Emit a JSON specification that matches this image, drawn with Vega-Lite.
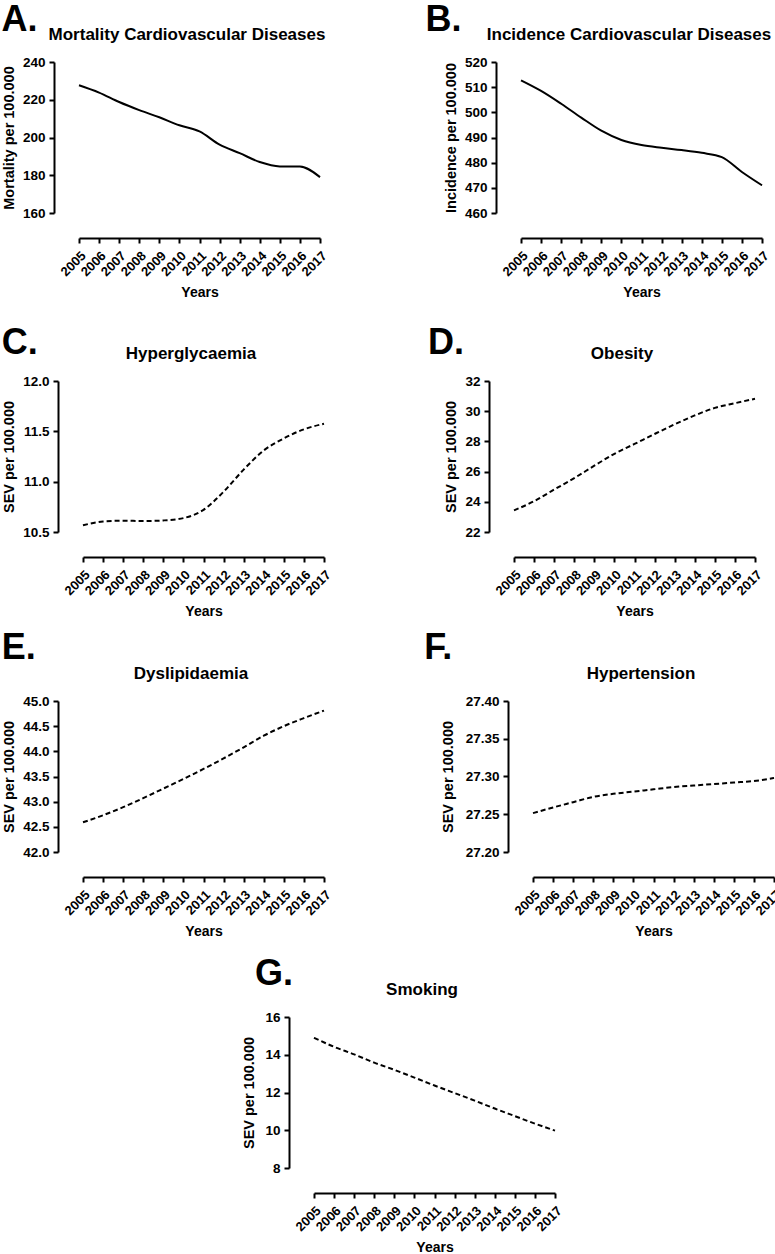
{
  "$schema": "https://vega.github.io/schema/vega-lite/v6.json",
  "background": "white",
  "padding": {"left": 0, "top": 2, "right": 0, "bottom": 0},
  "datasets": {
    "A": [{"year":2005,"value":227.7},{"year":2006,"value":223.8},{"year":2007,"value":218.8},{"year":2008,"value":214.5},{"year":2009,"value":210.7},{"year":2010,"value":206.5},{"year":2011,"value":203.2},{"year":2012,"value":196.2},{"year":2013,"value":191.7},{"year":2014,"value":187.0},{"year":2015,"value":184.7},{"year":2016,"value":184.6},{"year":2017,"value":179.0}],
    "B": [{"year":2005,"value":512.7},{"year":2006,"value":508.5},{"year":2007,"value":503.4},{"year":2008,"value":497.9},{"year":2009,"value":492.7},{"year":2010,"value":489.0},{"year":2011,"value":487.0},{"year":2012,"value":485.9},{"year":2013,"value":485.0},{"year":2014,"value":483.9},{"year":2015,"value":482.2},{"year":2016,"value":476.3},{"year":2017,"value":471.0}],
    "C": [{"year":2005,"value":10.566},{"year":2006,"value":10.605},{"year":2007,"value":10.612},{"year":2008,"value":10.609},{"year":2009,"value":10.615},{"year":2010,"value":10.638},{"year":2011,"value":10.72},{"year":2012,"value":10.9},{"year":2013,"value":11.12},{"year":2014,"value":11.31},{"year":2015,"value":11.43},{"year":2016,"value":11.52},{"year":2017,"value":11.575}],
    "D": [{"year":2005,"value":23.43},{"year":2006,"value":24.04},{"year":2007,"value":24.81},{"year":2008,"value":25.57},{"year":2009,"value":26.39},{"year":2010,"value":27.18},{"year":2011,"value":27.83},{"year":2012,"value":28.49},{"year":2013,"value":29.13},{"year":2014,"value":29.72},{"year":2015,"value":30.22},{"year":2016,"value":30.53},{"year":2017,"value":30.82}],
    "E": [{"year":2005,"value":42.59},{"year":2006,"value":42.73},{"year":2007,"value":42.89},{"year":2008,"value":43.07},{"year":2009,"value":43.26},{"year":2010,"value":43.45},{"year":2011,"value":43.65},{"year":2012,"value":43.86},{"year":2013,"value":44.08},{"year":2014,"value":44.31},{"year":2015,"value":44.5},{"year":2016,"value":44.66},{"year":2017,"value":44.81}],
    "F": [{"year":2005,"value":27.2515},{"year":2006,"value":27.259},{"year":2007,"value":27.266},{"year":2008,"value":27.273},{"year":2009,"value":27.277},{"year":2010,"value":27.28},{"year":2011,"value":27.283},{"year":2012,"value":27.286},{"year":2013,"value":27.288},{"year":2014,"value":27.29},{"year":2015,"value":27.292},{"year":2016,"value":27.294},{"year":2017,"value":27.298}],
    "G": [{"year":2005,"value":14.9},{"year":2006,"value":14.42},{"year":2007,"value":14.02},{"year":2008,"value":13.58},{"year":2009,"value":13.2},{"year":2010,"value":12.79},{"year":2011,"value":12.37},{"year":2012,"value":11.97},{"year":2013,"value":11.57},{"year":2014,"value":11.15},{"year":2015,"value":10.75},{"year":2016,"value":10.35},{"year":2017,"value":9.98}],
    "empty": []
  },
  "spacing": 25,
  "vconcat": [
    {
      "spacing": 0,
      "hconcat": [
        {"width": 1, "height": 10, "data": {"name": "empty"}, "mark": {"type": "point", "opacity": 0}},
        {
          "spacing": 95,
          "hconcat": [
            {
              "title": {"text": "A.", "anchor": "start", "frame": "bounds", "fontSize": 36, "offset": -13, "dx": 0},
              "hconcat": [{
                "title": {"text": "Mortality Cardiovascular Diseases", "fontSize": 17, "anchor": "middle", "frame": "group", "offset": 11},
                "width": 266, "height": 151,
                "data": {"name": "A"},
                "mark": {"type": "line", "color": "black", "strokeWidth": 2, "interpolate": "monotone"},
                "encoding": {
                  "x": {"field": "year", "type": "quantitative", "scale": {"domain": [2005, 2017], "range": [25, 266], "nice": false, "zero": false}, "axis": {"values": [2005,2006,2007,2008,2009,2010,2011,2012,2013,2014,2015,2016,2017], "format": "d", "labelAngle": -45, "offset": 25, "title": "Years", "labelOverlap": false}},
                  "y": {"field": "value", "type": "quantitative", "scale": {"domain": [160, 240], "nice": false, "zero": false}, "axis": {"values": [160,180,200,220,240], "format": "d", "title": "Mortality per 100.000", "labelOverlap": false}}
                }
              }]
            },
            {
              "title": {"text": "B.", "anchor": "start", "frame": "bounds", "fontSize": 36, "offset": -13, "dx": -18},
              "hconcat": [{
                "title": {"text": "Incidence Cardiovascular Diseases", "fontSize": 17, "anchor": "middle", "frame": "group", "offset": 11},
                "width": 266, "height": 151,
                "data": {"name": "B"},
                "mark": {"type": "line", "color": "black", "strokeWidth": 2, "interpolate": "monotone"},
                "encoding": {
                  "x": {"field": "year", "type": "quantitative", "scale": {"domain": [2005, 2017], "range": [25, 266], "nice": false, "zero": false}, "axis": {"values": [2005,2006,2007,2008,2009,2010,2011,2012,2013,2014,2015,2016,2017], "format": "d", "labelAngle": -45, "offset": 25, "title": "Years", "labelOverlap": false}},
                  "y": {"field": "value", "type": "quantitative", "scale": {"domain": [460, 520], "nice": false, "zero": false}, "axis": {"values": [460,470,480,490,500,510,520], "format": "d", "title": "Incidence per 100.000", "labelOverlap": false}}
                }
              }]
            }
          ]
        }
      ]
    },
    {
      "spacing": 11,
      "vconcat": [
        {
          "spacing": 0,
          "hconcat": [
            {"width": 1, "height": 10, "data": {"name": "empty"}, "mark": {"type": "point", "opacity": 0}},
            {
              "spacing": 93,
              "hconcat": [
                {
                  "title": {"text": "C.", "anchor": "start", "frame": "bounds", "fontSize": 36, "offset": -17, "dx": 0},
                  "hconcat": [{
                    "title": {"text": "Hyperglycaemia", "fontSize": 17, "anchor": "middle", "frame": "group", "offset": 11},
                    "width": 266, "height": 151,
                    "data": {"name": "C"},
                    "mark": {"type": "line", "color": "black", "strokeWidth": 2, "strokeDash": [5, 3], "interpolate": "monotone"},
                    "encoding": {
                      "x": {"field": "year", "type": "quantitative", "scale": {"domain": [2005, 2017], "range": [25, 266], "nice": false, "zero": false}, "axis": {"values": [2005,2006,2007,2008,2009,2010,2011,2012,2013,2014,2015,2016,2017], "format": "d", "labelAngle": -45, "offset": 25, "title": "Years", "labelOverlap": false}},
                      "y": {"field": "value", "type": "quantitative", "scale": {"domain": [10.5, 12], "nice": false, "zero": false}, "axis": {"values": [10.5,11,11.5,12], "format": ".1f", "title": "SEV per 100.000", "labelOverlap": false}}
                    }
                  }]
                },
                {
                  "title": {"text": "D.", "anchor": "start", "frame": "bounds", "fontSize": 36, "offset": -17, "dx": -16},
                  "hconcat": [{
                    "title": {"text": "Obesity", "fontSize": 17, "anchor": "middle", "frame": "group", "offset": 11},
                    "width": 266, "height": 151,
                    "data": {"name": "D"},
                    "mark": {"type": "line", "color": "black", "strokeWidth": 2, "strokeDash": [5, 3], "interpolate": "monotone"},
                    "encoding": {
                      "x": {"field": "year", "type": "quantitative", "scale": {"domain": [2005, 2017], "range": [25, 266], "nice": false, "zero": false}, "axis": {"values": [2005,2006,2007,2008,2009,2010,2011,2012,2013,2014,2015,2016,2017], "format": "d", "labelAngle": -45, "offset": 25, "title": "Years", "labelOverlap": false}},
                      "y": {"field": "value", "type": "quantitative", "scale": {"domain": [22, 32], "nice": false, "zero": false}, "axis": {"values": [22,24,26,28,30,32], "format": "d", "title": "SEV per 100.000", "labelOverlap": false}}
                    }
                  }]
                }
              ]
            }
          ]
        },
        {
          "spacing": 17,
          "vconcat": [
            {
              "spacing": 0,
              "hconcat": [
                {"width": 1, "height": 10, "data": {"name": "empty"}, "mark": {"type": "point", "opacity": 0}},
                {
                  "spacing": 90,
                  "hconcat": [
                    {
                      "title": {"text": "E.", "anchor": "start", "frame": "bounds", "fontSize": 36, "offset": -2, "dx": 0},
                      "hconcat": [{
                        "title": {"text": "Dyslipidaemia", "fontSize": 17, "anchor": "middle", "frame": "group", "offset": 11},
                        "width": 266, "height": 151,
                        "data": {"name": "E"},
                        "mark": {"type": "line", "color": "black", "strokeWidth": 2, "strokeDash": [5, 3], "interpolate": "monotone"},
                        "encoding": {
                          "x": {"field": "year", "type": "quantitative", "scale": {"domain": [2005, 2017], "range": [25, 266], "nice": false, "zero": false}, "axis": {"values": [2005,2006,2007,2008,2009,2010,2011,2012,2013,2014,2015,2016,2017], "format": "d", "labelAngle": -45, "offset": 25, "title": "Years", "labelOverlap": false}},
                          "y": {"field": "value", "type": "quantitative", "scale": {"domain": [42, 45], "nice": false, "zero": false}, "axis": {"values": [42,42.5,43,43.5,44,44.5,45], "format": ".1f", "title": "SEV per 100.000", "labelOverlap": false}}
                        }
                      }]
                    },
                    {
                      "title": {"text": "F.", "anchor": "start", "frame": "bounds", "fontSize": 36, "offset": -2, "dx": -16},
                      "hconcat": [{
                        "title": {"text": "Hypertension", "fontSize": 17, "anchor": "middle", "frame": "group", "offset": 11},
                        "width": 266, "height": 151,
                        "data": {"name": "F"},
                        "mark": {"type": "line", "color": "black", "strokeWidth": 2, "strokeDash": [5, 3], "interpolate": "monotone"},
                        "encoding": {
                          "x": {"field": "year", "type": "quantitative", "scale": {"domain": [2005, 2017], "range": [25, 266], "nice": false, "zero": false}, "axis": {"values": [2005,2006,2007,2008,2009,2010,2011,2012,2013,2014,2015,2016,2017], "format": "d", "labelAngle": -45, "offset": 25, "title": "Years", "labelOverlap": false}},
                          "y": {"field": "value", "type": "quantitative", "scale": {"domain": [27.2, 27.4], "nice": false, "zero": false}, "axis": {"values": [27.2,27.25,27.3,27.35,27.4], "format": ".2f", "title": "SEV per 100.000", "titlePadding": 10, "labelOverlap": false}}
                        }
                      }]
                    }
                  ]
                }
              ]
            },
            {
              "spacing": 0,
              "hconcat": [
                {"width": 241, "height": 10, "data": {"name": "empty"}, "mark": {"type": "point", "opacity": 0}},
                {
                  "title": {"text": "G.", "anchor": "start", "frame": "bounds", "fontSize": 36, "offset": -12, "dx": 13},
                  "hconcat": [{
                    "title": {"text": "Smoking", "fontSize": 17, "anchor": "middle", "frame": "group", "offset": 11},
                    "width": 266, "height": 151,
                    "data": {"name": "G"},
                    "mark": {"type": "line", "color": "black", "strokeWidth": 2, "strokeDash": [5, 3], "interpolate": "monotone"},
                    "encoding": {
                      "x": {"field": "year", "type": "quantitative", "scale": {"domain": [2005, 2017], "range": [25, 266], "nice": false, "zero": false}, "axis": {"values": [2005,2006,2007,2008,2009,2010,2011,2012,2013,2014,2015,2016,2017], "format": "d", "labelAngle": -45, "offset": 25, "title": "Years", "labelOverlap": false}},
                      "y": {"field": "value", "type": "quantitative", "scale": {"domain": [8, 16], "nice": false, "zero": false}, "axis": {"values": [8,10,12,14,16], "format": "d", "title": "SEV per 100.000", "titlePadding": 8, "labelOverlap": false}}
                    }
                  }]
                }
              ]
            }
          ]
        }
      ]
    }
  ],
  "config": {
    "font": "Liberation Sans",
    "view": {"stroke": null},
    "axis": {
      "grid": false,
      "domainColor": "black", "domainWidth": 2,
      "tickColor": "black", "tickWidth": 2, "tickSize": 5,
      "labelFont": "Liberation Sans", "labelFontSize": 13.5, "labelFontWeight": "bold", "labelColor": "black", "labelPadding": 4,
      "titleFont": "Liberation Sans", "titleFontSize": 14.5, "titleFontWeight": "bold", "titleColor": "black", "titlePadding": 6
    },
    "axisX": {"labelFontSize": 13, "labelPadding": 6, "titlePadding": 7, "titleFontSize": 14},
    "title": {"font": "Liberation Sans", "fontWeight": "bold", "color": "black"}
  }
}
